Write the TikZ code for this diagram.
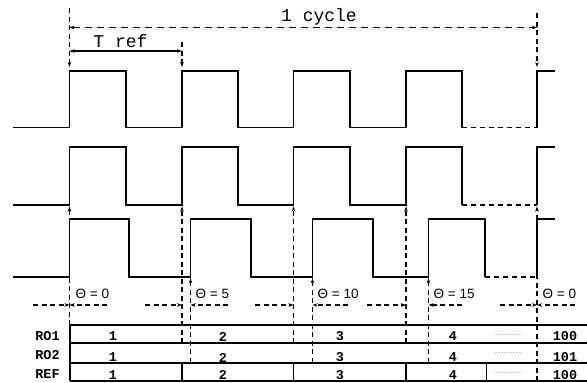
\documentclass[tikz,border=0pt]{standalone}
\usepackage{fontspec}
\setmainfont{Liberation Sans}
\newfontfamily\monof{Liberation Mono}
\usetikzlibrary{arrows.meta}
\tikzset{
  wave/.style={line width=1.7pt, line join=miter},
  wavedash/.style={line width=1.7pt, dash pattern=on 5pt off 4pt},
  guide/.style={line width=1.2pt, dash pattern=on 5pt off 3.5pt},
  tip/.style={-{Stealth[length=5pt,width=3.5pt]}},
  tips/.style={{Stealth[length=5pt,width=3.5pt]}-{Stealth[length=5pt,width=3.5pt]}},
  tbl/.style={line width=1.7pt},
  tbv/.style={line width=1.2pt},
  monolab/.style={font=\monof\fontsize{18}{20}\selectfont, inner sep=0pt},
  rowlab/.style={font=\monof\bfseries\fontsize{13.5}{15}\selectfont, inner sep=0pt},
  num/.style={font=\monof\bfseries\fontsize{13.5}{15}\selectfont, inner sep=0pt},
  dots/.style={font=\monof\fontsize{5}{6}\selectfont, inner sep=0pt},
  theta/.style={font=\fontsize{13.5}{15}\selectfont, inner sep=0pt, anchor=west},
}
\begin{document}
\begin{tikzpicture}[x=1pt,y=-1pt]
\useasboundingbox (0,0) rectangle (587,383);
% ---- REF waveform (top)
\draw[wave] (13,127.5) -- (69.5,127.5) -- (69.5,70.7) -- (125.7,70.7) -- (125.7,127.5)
  -- (182,127.5) -- (182,70.7) -- (237.7,70.7) -- (237.7,127.5)
  -- (293.5,127.5) -- (293.5,70.7) -- (350,70.7) -- (350,127.5)
  -- (406,127.5) -- (406,70.7) -- (461.7,70.7) -- (461.7,127.5);
\draw[wavedash] (461.7,127.5) -- (537,127.5);
\draw[wave] (537,127.5) -- (537,70.7) -- (555,70.7);
% ---- RO1 waveform
\draw[wave] (13,205) -- (69.5,205) -- (69.5,147.3) -- (125.7,147.3) -- (125.7,205)
  -- (182,205) -- (182,147.3) -- (237.7,147.3) -- (237.7,205)
  -- (293.5,205) -- (293.5,147.3) -- (350,147.3) -- (350,205)
  -- (406,205) -- (406,147.3) -- (461.7,147.3) -- (461.7,205);
\draw[wavedash] (461.7,205) -- (537,205);
\draw[wave] (537,205) -- (537,147.3) -- (555,147.3);
% ---- RO2 waveform
\draw[wave] (13,276.7) -- (69.5,276.7) -- (69.5,219.3) -- (129.3,219.3) -- (129.3,276.7)
  -- (190.5,276.7) -- (190.5,219.3) -- (250.7,219.3) -- (250.7,276.7)
  -- (312.5,276.7) -- (312.5,219.3) -- (372.7,219.3) -- (372.7,276.7)
  -- (428.5,276.7) -- (428.5,219.3) -- (485,219.3) -- (485,276.7);
\draw[wavedash] (485,276.7) -- (537,276.7);
\draw[wave] (537,276.7) -- (537,219.3) -- (555,219.3);

% ---- top markers
\coordinate (c0t) at (69.5,8);   \coordinate (c0b) at (69.5,67);
\coordinate (c1t) at (182,42);   \coordinate (c1b) at (182,67);
\coordinate (cEt) at (537,13);   \coordinate (cEb) at (537,67);
\draw[guide,tip] (c0t) -- (c0b);
\draw[guide,tip] (c1t) -- (c1b);
\draw[guide,tip] (cEt) -- (cEb);
\coordinate (cyL) at (69.5,27.5); \coordinate (cyR) at (537,27.5);
\draw[guide,tips,line width=1.5pt,dash pattern=on 7pt off 5pt] (cyL) -- (cyR);
\node[monolab] (cyc) at (319,16.5) {1 cycle};
\coordinate (trL) at (69.5,51); \coordinate (trR) at (182,51);
\draw[tips,line width=1.3pt] (trL) -- (trR);
\node[monolab] (tref) at (120.5,41) {T ref};

% ---- table
\coordinate (tL1) at (70,325);   \coordinate (tR1) at (587,325);
\coordinate (tL2) at (70,343);   \coordinate (tR2) at (587,343);
\coordinate (tL3) at (70,362.7); \coordinate (tR3) at (587,362.7);
\coordinate (tL4) at (70,381);   \coordinate (tR4) at (587,381);
\draw[tbl] (tL1) -- (tR1);
\draw[tbl] (tL2) -- (tR2);
\draw[tbl] (tL3) -- (tR3);
\draw[tbl] (tL4) -- (tR4);
\draw[tbv] (tL1) -- (tL4);
\foreach \x in {182,293.5,406,486.7} \draw[tbv] (\x,362.7) -- (\x,381);

% ---- dashed guides down from rises
\draw[guide,tip] (69.5,325) -- (69.5,206.5);
\foreach \x in {182,293.5,406} \draw[guide,tip] (\x,343) -- (\x,206.5);
\draw[guide,tip] (537,381) -- (537,206.5);
\foreach \x in {190.5,312.5,428.5} \draw[guide,tip] (\x,362.7) -- (\x,278.2);

% ---- phase arrows
\foreach \a/\b/\c/\d in {33/69.5/107/69.5, 145/182/228/190.5, 255/293.5/348/312.5, 367/406/462/428.5, 500/537/575/537}{
  \draw[guide,tip] (\a,305) -- (\b,305);
  \draw[guide,tip] (\c,305) -- (\d,305);
}
\node[theta] (th0) at (75.5,294) {Θ = 0};
\node[theta] (th5) at (195.5,294) {Θ = 5};
\node[theta] (th10) at (317.5,294) {Θ = 10};
\node[theta] (th15) at (433.5,294) {Θ = 15};
\node[theta] (thE) at (542.5,294) {Θ = 0};

% ---- row labels
\node[rowlab] (lro1) at (47.5,336.5) {RO1};
\node[rowlab] (lro2) at (47.5,355.5) {RO2};
\node[rowlab] (lref) at (47.5,374.5) {REF};
% ---- numbers
\foreach \y in {336.5,357.5,375}{
  \node[num] at (113,\y) {1};
  \node[num] at (223,\y) {2};
  \node[num] at (340,\y) {3};
  \node[num] at (453,\y) {4};
}
\node[dots] (d1) at (508,335) {.........};
\node[dots] (d2) at (508,353) {.........};
\node[dots] (d3) at (508,373) {.........};
\node[num] (n100a) at (565,336.5) {100};
\node[num] (n101) at (565,357.5) {101};
\node[num] (n100c) at (565,375) {100};
\end{tikzpicture}
\end{document}
